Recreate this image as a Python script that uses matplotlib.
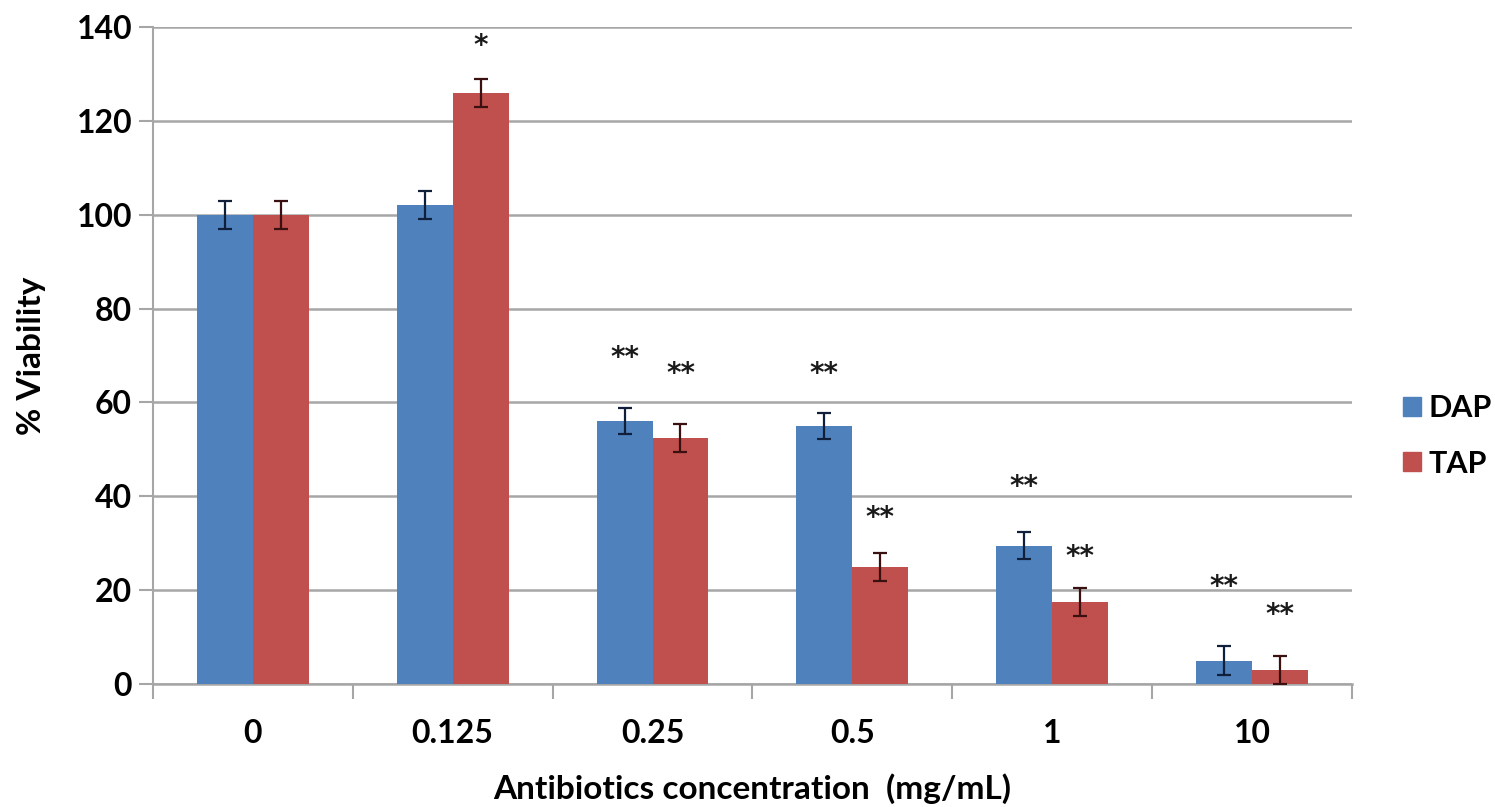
import matplotlib
matplotlib.use("Agg")
import matplotlib.pyplot as plt
from matplotlib.patches import Patch
import numpy as np

categories = ["0", "0.125", "0.25", "0.5", "1", "10"]
dap = [100, 102, 56, 55, 29.5, 5]
tap = [100, 126, 52.5, 25, 17.5, 3]
dap_err = [3, 3, 2.8, 2.8, 2.8, 3]
tap_err = [3, 3, 3, 3, 3, 3]
dap_sig = ["", "", "**", "**", "**", "**"]
tap_sig = ["", "*", "**", "**", "**", "**"]
dap_sig_y = [0, 0, 69.5, 66, 42, 20.7]
tap_sig_y = [0, 136, 66, 35.4, 27, 14.7]

FONT = "Lato"
blue = "#4F81BD"
red = "#C0504D"
grid_c = "#A6A6A6"

fig = plt.figure(figsize=(14.95, 8.07), dpi=100)
ax = fig.add_axes([0.1023, 0.1524, 0.9043 - 0.1023, 0.9665 - 0.1524])

x = np.arange(len(categories))
w = 0.28
ax.bar(x - w / 2, dap, w, color=blue, zorder=3)
ax.bar(x + w / 2, tap, w, color=red, zorder=3)
ax.errorbar(x - w / 2, dap, yerr=dap_err, fmt="none", ecolor="#10203a",
            elinewidth=1.6, capsize=5, capthick=1.6, zorder=4)
ax.errorbar(x + w / 2, tap, yerr=tap_err, fmt="none", ecolor="#3a1010",
            elinewidth=1.6, capsize=5, capthick=1.6, zorder=4)

for i in range(len(categories)):
    if dap_sig[i]:
        ax.text(x[i] - w / 2, dap_sig_y[i], dap_sig[i], ha="center", va="center",
                fontsize=20, fontweight="bold", family="DejaVu Sans",
                color="#1a1a1a", zorder=5)
    if tap_sig[i]:
        ax.text(x[i] + w / 2, tap_sig_y[i], tap_sig[i], ha="center", va="center",
                fontsize=20, fontweight="bold", family="DejaVu Sans",
                color="#1a1a1a", zorder=5)

ax.set_xlim(-0.5, len(categories) - 0.5)
ax.set_ylim(0, 140)
ax.set_yticks(np.arange(0, 141, 20))
ax.yaxis.grid(True, color=grid_c, linewidth=1.8, zorder=0)
ax.set_axisbelow(True)

ax.set_xticks(x)
ax.set_xticklabels(categories, fontsize=23, fontweight="bold", family=FONT)
ax.set_xticks(np.arange(-0.5, len(categories), 1.0), minor=True)
ax.tick_params(axis="x", which="major", length=0, pad=25)
ax.tick_params(axis="x", which="minor", length=11, width=1.5, color=grid_c)
ax.tick_params(axis="y", length=10, width=1.5, color=grid_c, pad=5)
for lab in ax.get_yticklabels():
    lab.set_fontsize(23)
    lab.set_fontweight("bold")
    lab.set_family(FONT)

for s in ["top", "right"]:
    ax.spines[s].set_visible(False)
ax.spines["left"].set_color(grid_c)
ax.spines["left"].set_linewidth(1.5)
ax.spines["bottom"].set_color(grid_c)
ax.spines["bottom"].set_linewidth(1.8)

ax.set_ylabel("% Viability", fontsize=24, fontweight="bold", family=FONT, labelpad=22)
ax.set_xlabel("Antibiotics concentration  (mg/mL)", fontsize=24, fontweight="bold",
              family=FONT, labelpad=18)

handles = [Patch(color=blue, label="DAP"), Patch(color=red, label="TAP")]
fig.legend(handles=handles, loc="center left", bbox_to_anchor=(0.92, 0.46),
           frameon=False, prop={"family": FONT, "weight": "bold", "size": 22},
           handlelength=0.6, handleheight=0.6, handletextpad=0.25, labelspacing=0.9)

fig.savefig("out.png", dpi=100)
